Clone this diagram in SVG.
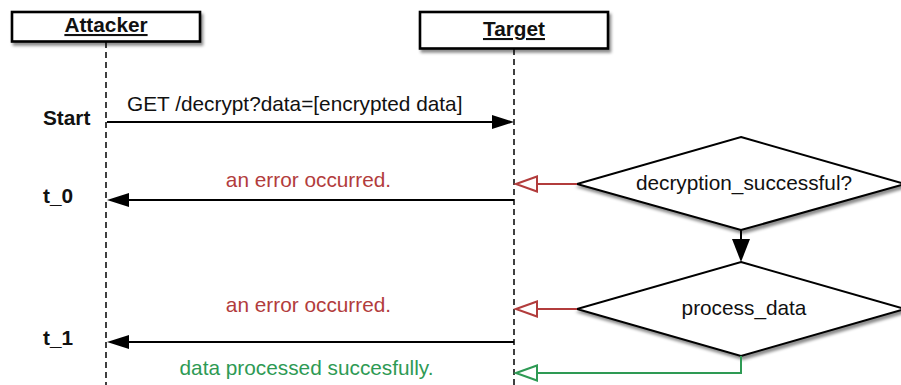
<svg xmlns="http://www.w3.org/2000/svg" width="901" height="385" viewBox="0 0 901 385">
  <defs>
    <filter id="shadow" x="-10%" y="-20%" width="130%" height="150%">
      <feDropShadow dx="2" dy="3" stdDeviation="1.6" flood-color="#000" flood-opacity="0.45"/>
    </filter>
  </defs>
  <style>
    text { font-family: "Liberation Sans", Arial, Helvetica, sans-serif; font-size: 20.8px; fill: #111; }
    .bold { font-weight: bold; }
    .title { font-weight: bold; text-decoration: underline; text-anchor: middle; }
    .mid { text-anchor: middle; }
    .err { fill: #b23c3c; }
    .ok { fill: #2e9a54; }
    .box { fill: #fff; stroke: #000; stroke-width: 2.6; filter: url(#shadow); }
    .diamond { fill: #fff; stroke: #000; stroke-width: 2; filter: url(#shadow); }
    .life { stroke: #000; stroke-width: 1.5; stroke-dasharray: 6 4; fill: none; }
    .msg { stroke: #000; stroke-width: 2; fill: none; }
    .head { fill: #000; stroke: none; }
    .redline { stroke: #b23c3c; stroke-width: 2; fill: none; }
    .redhead { fill: #fff; stroke: #b23c3c; stroke-width: 2; }
    .greenline { stroke: #2e9a54; stroke-width: 2; fill: none; }
    .greenhead { fill: #fff; stroke: #2e9a54; stroke-width: 2; }
  </style>

  <!-- lifelines -->
  <g id="lifelines">
    <line class="life" x1="106" y1="42" x2="106" y2="385"/>
    <line class="life" x1="514" y1="49" x2="514" y2="385"/>
  </g>

  <!-- participants -->
  <g id="attacker">
    <rect class="box" x="12" y="12" width="188" height="29.5"/>
    <text class="title" x="106" y="32">Attacker</text>
  </g>
  <g id="target">
    <rect class="box" x="420" y="12" width="188" height="36.5"/>
    <text class="title" x="514" y="36">Target</text>
  </g>

  <!-- decisions -->
  <g id="decryption-check">
    <polygon class="diamond" points="741,137 905,184 741,230 577,184"/>
    <text class="mid" x="744" y="190">decryption_successful?</text>
  </g>
  <g id="process-data">
    <polygon class="diamond" points="741,262 905,309 741,356 577,309"/>
    <text class="mid" x="744" y="315">process_data</text>
  </g>

  <!-- connectors -->
  <g id="connectors">
    <!-- request -->
    <line class="msg" x1="107" y1="122" x2="493" y2="122"/>
    <polygon class="head" points="514,122 492,115 492,129"/>
    <!-- response t_0 -->
    <line class="msg" x1="514" y1="200" x2="128" y2="200"/>
    <polygon class="head" points="107,200 129,193 129,207"/>
    <!-- response t_1 -->
    <line class="msg" x1="514" y1="342" x2="128" y2="342"/>
    <polygon class="head" points="107,342 129,335 129,349"/>
    <!-- decision flow -->
    <line class="msg" x1="741" y1="230" x2="741" y2="240"/>
    <polygon class="head" points="741,262 732,239 750,239"/>
    <!-- error branches -->
    <line class="redline" x1="577" y1="184" x2="537" y2="184"/>
    <polygon class="redhead" points="516,184 537,176.5 537,191.5"/>
    <line class="redline" x1="577" y1="309" x2="537" y2="309"/>
    <polygon class="redhead" points="516,309 537,301.5 537,316.5"/>
    <!-- success branch -->
    <polyline class="greenline" points="741,356 741,373 537,373"/>
    <polygon class="greenhead" points="516,373 537,365.5 537,380.5"/>
  </g>

  <!-- labels -->
  <g id="labels">
    <text class="bold" x="43" y="125">Start</text>
    <text class="bold" x="43" y="203">t_0</text>
    <text class="bold" x="43" y="345">t_1</text>
    <text x="127" y="111">GET /decrypt?data=[encrypted data]</text>
    <text class="mid err" x="308.5" y="187">an error occurred.</text>
    <text class="mid err" x="308.5" y="312">an error occurred.</text>
    <text class="mid ok" x="306.5" y="375">data processed succesfully.</text>
  </g>
</svg>
